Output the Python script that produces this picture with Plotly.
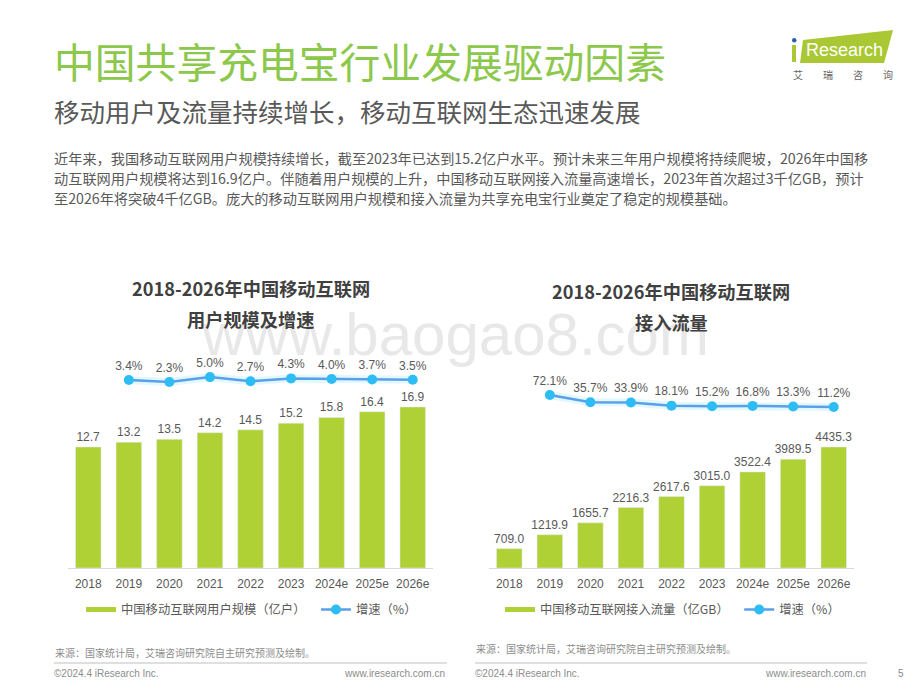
import plotly.graph_objects as go

years = ["2018", "2019", "2020", "2021", "2022", "2023", "2024e", "2025e", "2026e"]
users = [12.7, 13.2, 13.5, 14.2, 14.5, 15.2, 15.8, 16.4, 16.9]
users_growth = [3.4, 2.3, 5.0, 2.7, 4.3, 4.0, 3.7, 3.5]
traffic = [709.0, 1219.9, 1655.7, 2216.3, 2617.6, 3015.0, 3522.4, 3989.5, 4435.3]
traffic_growth = [72.1, 35.7, 33.9, 18.1, 15.2, 16.8, 13.3, 11.2]

W, H = 920, 690
CJK = "Noto Sans CJK SC"
LATIN = "Liberation Sans, Noto Sans CJK SC"
GREY = "#595959"
FOOT = "#8c8c8c"
BAR = "#afd135"
LINE = "#5b9fe8"
DOT = "#2dbcf4"

# полноширинная пунктуация
COMMA = "\uff0c"
COLON = "\uff1a"
LP = "\uff08"
RP = "\uff09"
SP = "\u3000\u3000"
GAP = "\u00a0\u00a0"

SOURCE = f"来源{COLON}国家统计局{COMMA}艾瑞咨询研究院自主研究预测及绘制。"


# пиксели страницы -> доли paper
def px(x):
    return x / W


def py(y):
    return 1 - y / H


def text(x, y, s, size, color=GREY, family=CJK, anchor="left"):
    return dict(x=px(x), y=py(y), xref="paper", yref="paper", text=s, showarrow=False,
                xanchor=anchor, yanchor="middle", font=dict(size=size, color=color, family=family))


fig = go.Figure()

charts = [
    (users, users_growth, "x", "y", "y2", "legend", f"中国移动互联网用户规模{LP}亿户{RP}{GAP}"),
    (traffic, traffic_growth, "x2", "y3", "y4", "legend2", f"中国移动互联网接入流量{LP}亿GB{RP}{GAP}"),
]

for values, growth, xa, ya, ya2, leg, name in charts:
    fig.add_trace(go.Bar(x=years, y=values, xaxis=xa, yaxis=ya, marker_color=BAR, width=0.63,
                         texttemplate="%{y:.1f}", textposition="outside", cliponaxis=False,
                         constraintext="none", textfont=dict(size=12, color=GREY, family=LATIN),
                         showlegend=False))
    # мягкое свечение под линией
    fig.add_trace(go.Scatter(x=years[1:], y=growth, xaxis=xa, yaxis=ya2, mode="lines",
                             line=dict(color="rgba(120,225,250,0.22)", width=8), showlegend=False,
                             hoverinfo="skip"))
    # столбики в легенде узкой полосой, как в оригинале
    fig.add_trace(go.Scatter(x=years, y=[None] * 9, xaxis=xa, yaxis=ya, mode="lines", name=name,
                             line=dict(color=BAR, width=5), legend=leg))
    fig.add_trace(go.Scatter(x=years[1:], y=growth, xaxis=xa, yaxis=ya2,
                             mode="lines+markers+text", name=f"增速{LP}%{RP}", legend=leg,
                             line=dict(color=LINE, width=2.5), marker=dict(color=DOT, size=10),
                             texttemplate="%{y:.1f}%", textposition="top center", cliponaxis=False,
                             textfont=dict(size=12, color=GREY, family=LATIN)))

axis_x = dict(type="category", range=[-0.5, 8.5], showgrid=False, zeroline=False, showline=True,
              linecolor="#d9d9d9", linewidth=1, ticks="outside", ticklen=5, tickcolor="rgba(0,0,0,0)",
              tickfont=dict(size=12, color=GREY, family=LATIN), fixedrange=True)
axis_y = dict(showgrid=False, zeroline=False, showticklabels=False, showline=False, ticks="")

notes = [
    text(455, 335, "www.baogao8.com", 60, "#e8e8e8", LATIN, "center"),
    text(52, 61, "中国共享充电宝行业发展驱动因素", 40.8, "#8cc84b"),
    text(52, 110, f"移动用户及流量持续增长{COMMA}移动互联网生态迅速发展", 25.5, GREY),
    text(52, 158, f"近年来{COMMA}我国移动互联网用户规模持续增长{COMMA}截至2023年已达到15.2亿户水平。预计未来三年用户规模将持续爬坡{COMMA}2026年中国移", 14.2),
    text(52, 178.5, f"动互联网用户规模将达到16.9亿户。伴随着用户规模的上升{COMMA}中国移动互联网接入流量高速增长{COMMA}2023年首次超过3千亿GB{COMMA}预计", 14.2),
    text(52, 198, "至2026年将突破4千亿GB。庞大的移动互联网用户规模和接入流量为共享充电宝行业奠定了稳定的规模基础。", 14.2),
    text(251, 288, "<b>2018-2026年中国移动互联网</b>", 18.2, "#404040", CJK, "center"),
    text(251, 319, "<b>用户规模及增速</b>", 18.2, "#404040", CJK, "center"),
    text(671, 291, "<b>2018-2026年中国移动互联网</b>", 18.2, "#404040", CJK, "center"),
    text(671, 322, "<b>接入流量</b>", 18.2, "#404040", CJK, "center"),
    text(53, 652, SOURCE, 10, FOOT),
    text(474, 648, SOURCE, 10, FOOT),
    text(52, 673, "©2024.4 iResearch Inc.", 10, FOOT, LATIN),
    text(447, 673, "www.iresearch.com.cn", 10, FOOT, LATIN, "right"),
    text(473, 673, "©2024.4 iResearch Inc.", 10, FOOT, LATIN),
    text(868, 673, "www.iresearch.com.cn", 10, FOOT, LATIN, "right"),
    text(901, 673, "5", 10, FOOT, LATIN, "center"),
    text(804, 50, "Research", 18, "white", LATIN),
    text(843, 74, SP.join("艾瑞咨询"), 10, "#666666", CJK, "center"),
]


def paper_path(points):
    return "M " + " L ".join(f"{px(x):.4f} {py(y):.4f}" for x, y in points) + " Z"


shapes = [
    dict(type="line", xref="paper", yref="paper", x0=px(54), x1=px(447), y0=py(663), y1=py(663),
         line=dict(color="#bfbfbf", width=1)),
    dict(type="line", xref="paper", yref="paper", x0=px(475), x1=px(867), y0=py(663), y1=py(663),
         line=dict(color="#bfbfbf", width=1)),
    dict(type="path", xref="paper", yref="paper", layer="below", fillcolor="#a9c833", line_width=0,
         path=paper_path([(803, 40), (893, 30), (884, 63), (800, 63)])),
    dict(type="path", xref="paper", yref="paper", fillcolor="#a9c833", line_width=0,
         path=paper_path([(792, 45), (796, 45), (796, 62), (792, 62)])),
    dict(type="circle", xref="paper", yref="paper", fillcolor="#2f5fa8", line_width=0,
         x0=px(792), x1=px(796.5), y0=py(42.5), y1=py(38)),
]

legend_base = dict(orientation="h", xanchor="left", yanchor="middle", bgcolor="rgba(0,0,0,0)",
                   font=dict(size=12.3, color=GREY, family=CJK), itemwidth=30, tracegroupgap=0)

fig.update_layout(
    width=W, height=H, margin=dict(l=0, r=0, t=0, b=0), autosize=False,
    paper_bgcolor="white", plot_bgcolor="rgba(0,0,0,0)", hovermode=False,
    xaxis=dict(axis_x, domain=[px(68), px(433)], anchor="y"),
    yaxis=dict(axis_y, domain=[py(568), py(368)], range=[0, 20.99]),
    yaxis2=dict(axis_y, domain=[py(400), py(340)], range=[-7.7, 25.6], anchor="x"),
    xaxis2=dict(axis_x, domain=[px(489), px(854)], anchor="y3"),
    yaxis3=dict(axis_y, domain=[py(568), py(428)], range=[0, 5132], anchor="x2"),
    yaxis4=dict(axis_y, domain=[py(420), py(340)], range=[-54.8, 351.3], anchor="x2"),
    legend=dict(legend_base, x=px(81), y=py(609.5)),
    legend2=dict(legend_base, x=px(500), y=py(609.5)),
    annotations=notes, shapes=shapes,
)

# у body по умолчанию отступ 8px, убираем
fig.write_html("out.html", post_script="document.body.style.margin='0';",
               config=dict(displayModeBar=False))
